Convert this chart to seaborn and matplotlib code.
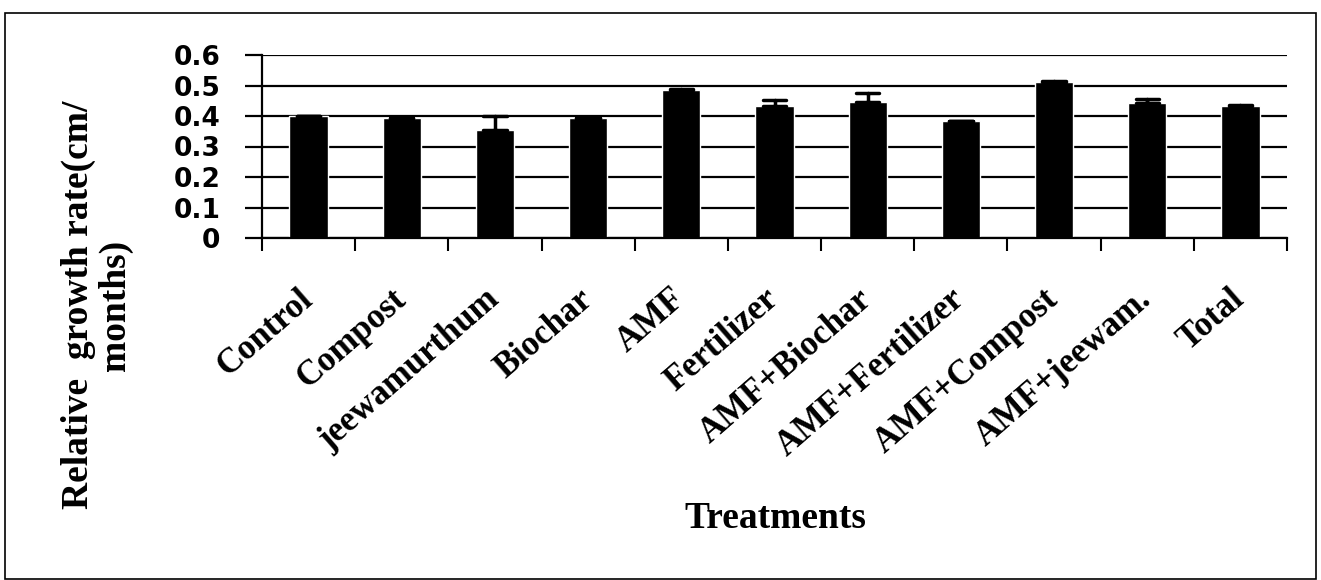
import matplotlib
matplotlib.use("Agg")
import matplotlib.pyplot as plt
import seaborn as sns
import pandas as pd
from matplotlib.patches import Rectangle
from matplotlib.ticker import FixedLocator

categories = ["Control", "Compost", "jeewamurthum", "Biochar", "AMF", "Fertilizer",
              "AMF+Biochar", "AMF+Fertilizer", "AMF+Compost", "AMF+jeewam.", "Total"]
values = [0.400, 0.393, 0.355, 0.392, 0.485, 0.433, 0.447, 0.384, 0.512, 0.444, 0.434]
errors = [0.000, 0.000, 0.044, 0.000, 0.004, 0.018, 0.027, 0.000, 0.003, 0.011, 0.002]
yticks = [0.0, 0.1, 0.2, 0.3, 0.4, 0.5, 0.6]
ytick_labels = ["0", "0.1", "0.2", "0.3", "0.4", "0.5", "0.6"]
x_title = "Treatments"
y_title = "Relative  growth rate(cm/\nmonths)"

sns.set_theme(style="white")
plt.rcParams['font.family'] = ['Liberation Serif', 'DejaVu Serif']
plt.rcParams['text.color'] = 'black'
plt.rcParams['axes.labelcolor'] = 'black'
plt.rcParams['xtick.color'] = 'black'
plt.rcParams['ytick.color'] = 'black'

# two rows per treatment: bar value and upper end of the error bar
df = pd.DataFrame({
    "Treatment": categories + categories,
    "RGR": values + [v + e for v, e in zip(values, errors)],
})

W, H = 1321, 580
fig = plt.figure(figsize=(W / 100, H / 100), dpi=100)
ax = fig.add_axes([262 / W, 1 - 238 / H, (1287 - 262) / W, (238 - 55) / H])

sns.barplot(data=df, x="Treatment", y="RGR", order=categories,
            estimator="min", errorbar=lambda s: (s.min(), s.max()),
            color="black", saturation=1, width=0.41, capsize=0.25,
            err_kws={"color": "black", "linewidth": 2.5}, ax=ax)

ax.set_ylim(0, 0.6)
ax.set_xlim(-0.5, len(categories) - 0.5)
ax.set_yticks(yticks, labels=ytick_labels)
ax.set_xlabel("")
ax.set_ylabel("")

ax.yaxis.grid(True, color="black", linewidth=1.6)
ax.xaxis.grid(False)
ax.set_axisbelow(True)

for s in ["top", "right"]:
    ax.spines[s].set_visible(False)
for s in ["left", "bottom"]:
    ax.spines[s].set_color("black")
    ax.spines[s].set_linewidth(1.6)

ax.tick_params(axis="y", direction="out", length=12, width=1.6, color="black",
               labelcolor="black", pad=18, left=True)
for lab in ax.get_yticklabels():
    lab.set_fontfamily(["DejaVu Sans"])
    lab.set_fontweight("bold")
    lab.set_fontsize(19)
    lab.set_color("black")

ax.xaxis.set_minor_locator(FixedLocator([i - 0.5 for i in range(len(categories) + 1)]))
ax.tick_params(axis="x", which="major", length=0, pad=41, bottom=True, labelcolor="black")
ax.tick_params(axis="x", which="minor", length=9, width=1.5, color="black",
               direction="out", bottom=True)
for lab in ax.get_xticklabels():
    lab.set_rotation(41)
    lab.set_ha("right")
    lab.set_va("center")
    lab.set_rotation_mode("anchor")
    lab.set_fontsize(25)
    lab.set_fontweight("bold")
    lab.set_color("black")

fig.text(775 / W, 1 - 518 / H, x_title, ha="center", va="center",
         fontsize=27, fontweight="bold", color="black")
fig.text(97 / W, 1 - 305 / H, y_title, rotation=90, ha="center", va="center",
         multialignment="center", fontsize=27, fontweight="bold", linespacing=1.1,
         color="black")

fig.patches.append(Rectangle((5 / W, 0.002), (1316 - 5) / W, (1 - 13 / H) - 0.002,
                             transform=fig.transFigure, fill=False,
                             edgecolor="black", linewidth=1.2))

fig.savefig("out.png", dpi=100, facecolor="white")
